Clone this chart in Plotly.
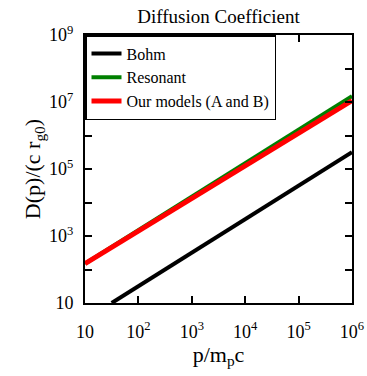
import plotly.graph_objects as go

p_bohm = [31.6, 100, 1e3, 1e4, 1e5, 1e6]
d_bohm = [10, 31.6, 316, 3160, 31600, 316000]
p_res = [10, 100, 1e3, 1e4, 1e5, 1e6]
d_res = [150, 1500, 15000, 150000, 1.5e6, 1.5e7]
p_our = [10, 100, 1e3, 1e4, 1e5, 1e6]
d_our = [150, 1400, 13000, 125000, 1.18e6, 1.1e7]

x_tickvals = [10, 100, 1e3, 1e4, 1e5, 1e6]
x_ticktext = ["10", "10<sup>2</sup>", "10<sup>3</sup>", "10<sup>4</sup>", "10<sup>5</sup>", "10<sup>6</sup>"]
y_tickvals = [10, 100, 1e3, 1e4, 1e5, 1e6, 1e7, 1e8, 1e9]
y_ticktext = ["10", "", "10<sup>3</sup>", "", "10<sup>5</sup>", "", "10<sup>7</sup>", "", "10<sup>9</sup>"]

fig = go.Figure()
fig.add_trace(go.Scatter(x=p_bohm, y=d_bohm, mode="lines", name="Bohm",
                         line=dict(color="black", width=4)))
fig.add_trace(go.Scatter(x=p_res, y=d_res, mode="lines", name="Resonant",
                         line=dict(color="green", width=4)))
fig.add_trace(go.Scatter(x=p_our, y=d_our, mode="lines", name="Our models (A and B)",
                         line=dict(color="red", width=5)))

font = "Liberation Serif"
axis_common = dict(type="log", showgrid=False, zeroline=False, showline=True,
                   linecolor="black", linewidth=2, mirror="ticks", ticks="inside",
                   ticklen=7, tickwidth=1.5, tickcolor="black", automargin=False,
                   tickfont=dict(family=font, size=18, color="black"))
fig.update_layout(
    width=367, height=376,
    margin=dict(l=85, r=15, t=35, b=73, autoexpand=False),
    paper_bgcolor="white", plot_bgcolor="white",
    font=dict(family=font, color="black"),
    title=dict(text="Diffusion Coefficient", x=0.5, xanchor="center", y=0.957, yanchor="middle",
               xref="paper", font=dict(family=font, size=19, color="black")),
    xaxis=dict(axis_common, range=[1, 6], tickvals=x_tickvals, ticktext=x_ticktext,
               ticklabelstandoff=11,
               title=dict(text="p/m<sub>p</sub>c", font=dict(family=font, size=22, color="black"), standoff=1)),
    yaxis=dict(axis_common, range=[1, 9], tickvals=y_tickvals, ticktext=y_ticktext,
               ticklabelstandoff=6,
               title=dict(text="D(p)/(c r<sub>g0</sub>)", font=dict(family=font, size=22, color="black"), standoff=2)),
    legend=dict(x=0, y=1, xanchor="left", yanchor="top", bgcolor="white",
                bordercolor="black", borderwidth=1.5,
                font=dict(family=font, size=16, color="black"),
                tracegroupgap=0, itemwidth=30),
    showlegend=True,
)
fig.write_html("out.html")
